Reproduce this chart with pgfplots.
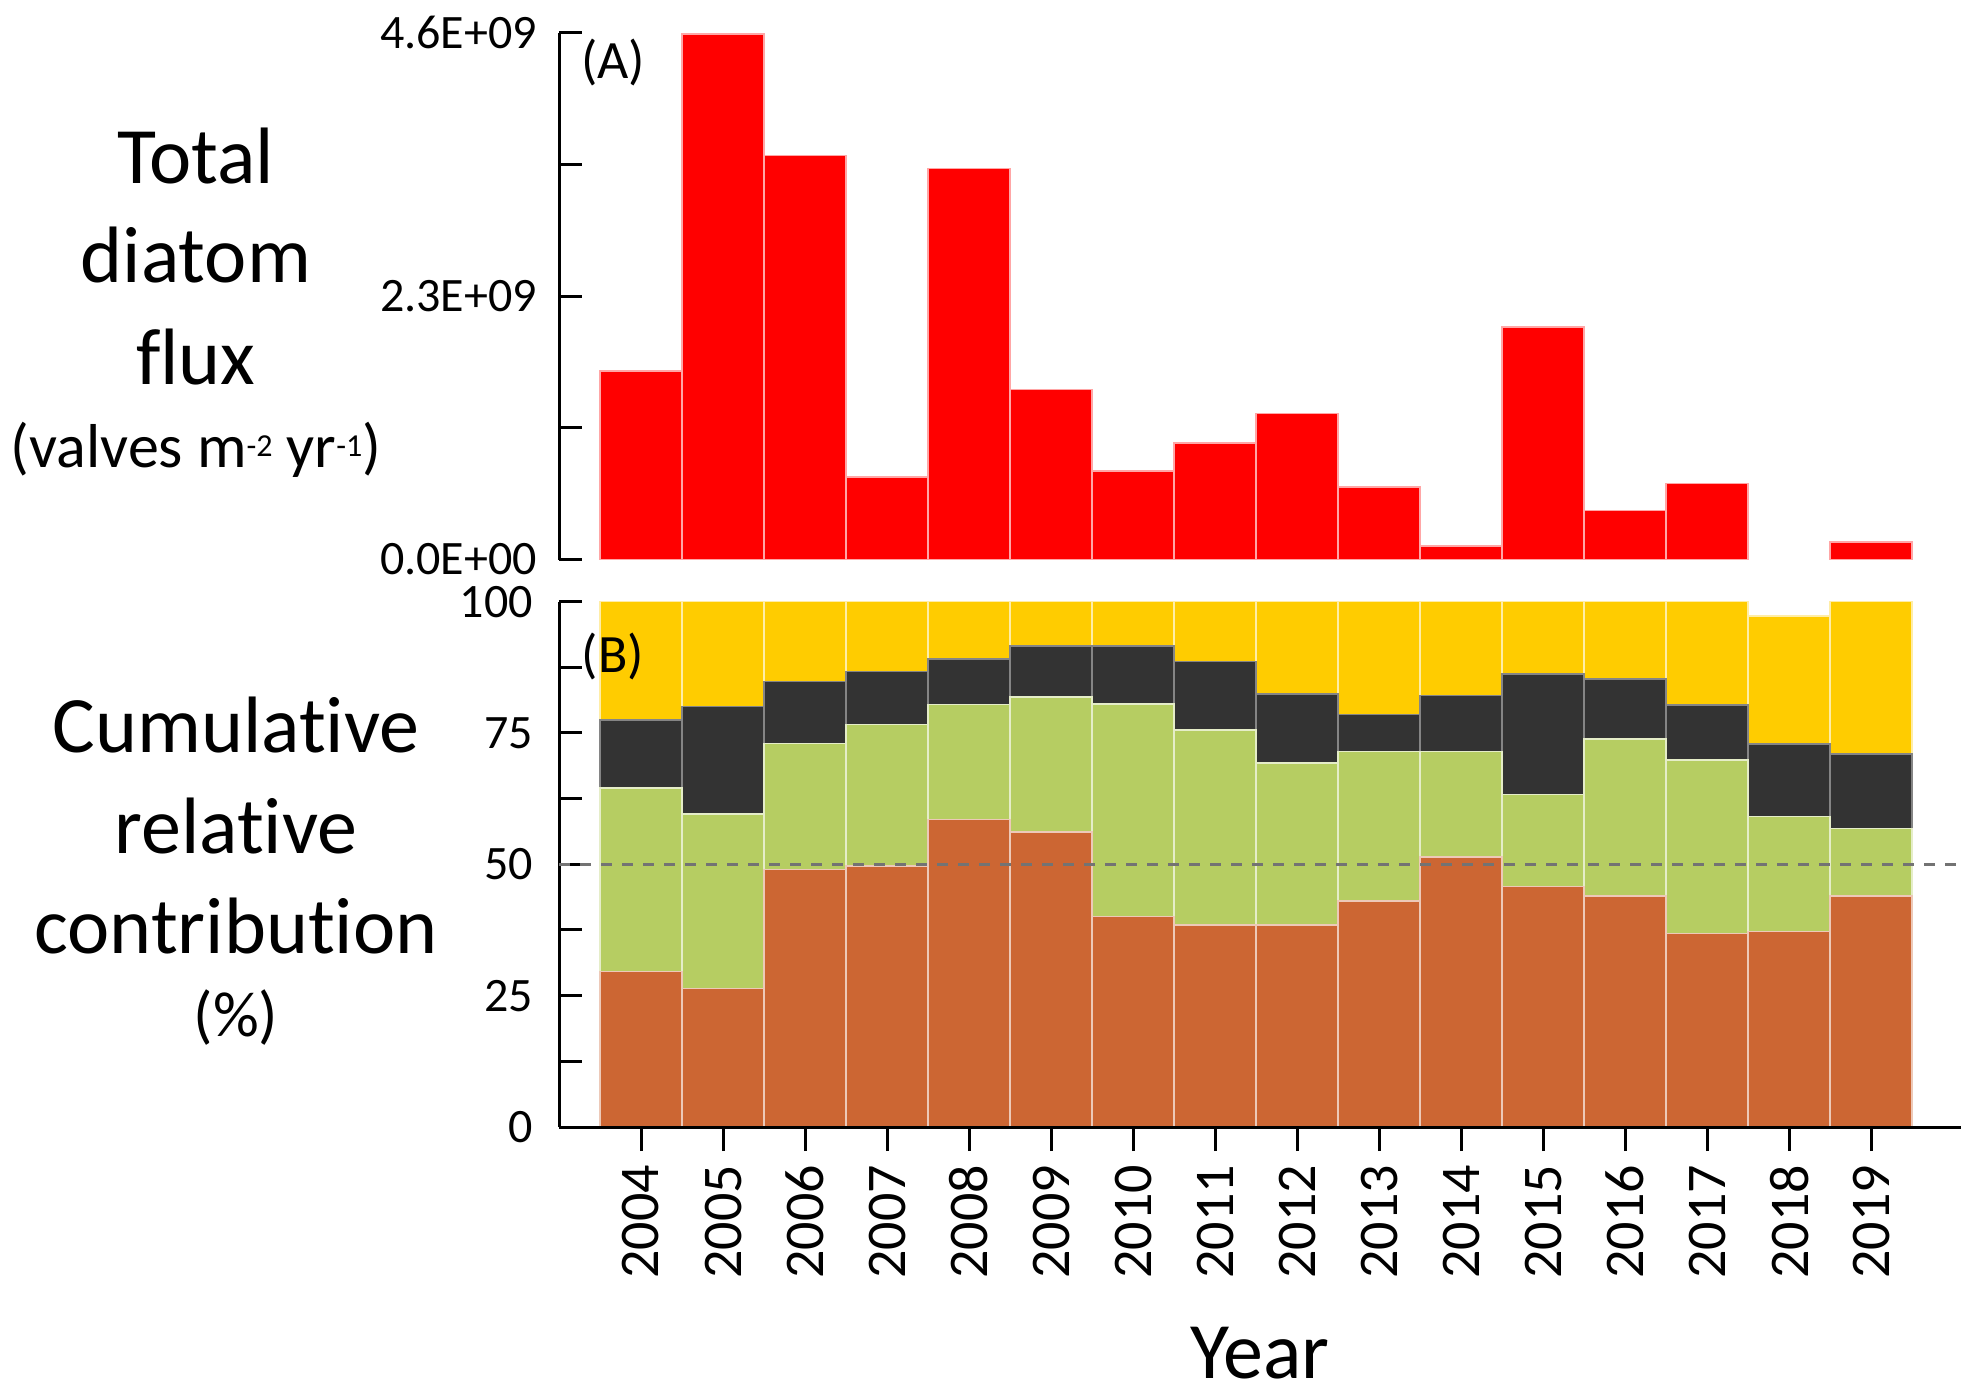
\documentclass[border=0pt]{standalone}
\usepackage{fontspec}
\setmainfont{Carlito}[Ligatures=NoCommon]
\usepackage{pgfplots}
\pgfplotsset{compat=1.18}
\usepackage{pgfplotstable}

\definecolor{cred}{HTML}{FF0000}
\definecolor{corange}{HTML}{CC6633}
\definecolor{cgreen}{HTML}{B6CD62}
\definecolor{cdark}{HTML}{333333}
\definecolor{cyellow}{HTML}{FFCC00}

% Total diatom flux (valves m-2 yr-1); 2018 has no value
\pgfplotstableread{
i flux
0 1.646e9
1 4.587e9
2 3.529e9
3 0.721e9
4 3.415e9
5 1.484e9
6 0.776e9
7 1.016e9
8 1.276e9
9 0.633e9
10 0.120e9
11 2.029e9
12 0.428e9
13 0.665e9
15 0.153e9
}\fluxtab

% Relative contribution layers (%), bottom to top
\pgfplotstableread{
i o g d y
0 29.6 34.9 13.0 22.5
1 26.4 33.2 20.4 20.0
2 49.0 24.0 11.8 15.2
3 49.7 26.9 10.1 13.3
4 58.5 21.9 8.7 10.9
5 56.1 25.7 9.7 8.5
6 40.1 40.4 11.0 8.5
7 38.5 37.1 13.0 11.4
8 38.5 30.8 13.1 17.6
9 43.0 28.5 7.0 21.5
10 51.4 20.1 10.6 17.9
11 45.8 17.5 22.9 13.8
12 44.0 29.9 11.4 14.7
13 36.8 33.0 10.5 19.7
14 37.2 21.9 13.8 24.4
15 44.0 12.8 14.2 29.0
}\reltab

\newcommand{\sups}[1]{{\fontsize{8}{9}\selectfont\raisebox{0.75ex}{#1}}}

\begin{document}
\begin{tikzpicture}
\useasboundingbox (0,0) rectangle (492.25pt,348.5pt);
\pgfplotsset{
  common/.style={
    scale only axis, width=350.6pt, enlargelimits=false,
    xmin=-1, xmax=16.1,
    axis line style={line width=0.75pt,-},
    every tick/.style={line width=0.75pt, black},
    major tick length=5.75pt, minor tick length=5.75pt,
    /pgf/number format/assume math mode=true,
    tick label style={font=\fontsize{12}{14}\selectfont},
  }
}
% ---------- Panel A ----------
\begin{axis}[common, at={(139.75pt,208.6pt)}, anchor=south west,
  height=131.7pt, ymin=0, ymax=4.6e9,
  axis y line*=left, axis x line=none, xtick=\empty,
  tick align=inside,
  ytick={0,1.15e9,2.3e9,3.45e9,4.6e9},
  yticklabels={0.0E+00,,2.3E+09,,4.6E+09},
  scaled y ticks=false,
  yticklabel style={xshift=-2pt},
  ybar, bar width=1]
\addplot[fill=cred, draw=white!65!cred, line width=0.4pt] table[x=i,y=flux]{\fluxtab};
\end{axis}
\node[font=\fontsize{13.5}{15}\selectfont] at (153.25pt,332.75pt) {(A)};

% ---------- Panel B ----------
\begin{axis}[common, at={(139.75pt,66.75pt)}, anchor=south west,
  height=131.35pt, ymin=0, ymax=100,
  axis y line*=left, axis x line=none, xtick=\empty,
  tick align=inside,
  ytick={0,25,50,75,100},
  minor ytick={12.5,37.5,62.5,87.5},
  yticklabel style={xshift=-3pt},
  ybar stacked, bar width=1]
\addplot[fill=corange, draw=white!65!corange, line width=0.4pt] table[x=i,y=o]{\reltab};
\addplot[fill=cgreen, draw=white!65!cgreen, line width=0.4pt] table[x=i,y=g]{\reltab};
\addplot[fill=cdark, draw=white!40!cdark, line width=0.4pt] table[x=i,y=d]{\reltab};
\addplot[fill=cyellow, draw=white!65!cyellow, line width=0.4pt] table[x=i,y=y]{\reltab};
\end{axis}
\begin{axis}[common, at={(139.75pt,66.75pt)}, anchor=south west,
  height=131.35pt, ymin=0, ymax=100,
  axis x line*=bottom, axis y line=none, ytick=\empty,
  tick align=outside, major tick length=6pt,
  xtick={0,1,2,3,4,5,6,7,8,9,10,11,12,13,14,15},
  xticklabels={2004,2005,2006,2007,2008,2009,2010,2011,2012,2013,2014,2015,2016,2017,2018,2019},
  xticklabel style={rotate=90, anchor=east, font=\fontsize{14}{16}\selectfont}]
\addplot[color=black!55, line width=0.6pt, dash pattern=on 2.75pt off 2.5pt] coordinates {(-1,50) (16.1,50)};
\end{axis}
\node[font=\fontsize{13.5}{15}\selectfont] at (153.25pt,184.5pt) {(B)};

% ---------- Labels ----------
\node[anchor=base, font=\fontsize{20}{24}\selectfont] at (49pt,302.5pt) {Total};
\node[anchor=base, font=\fontsize{20}{24}\selectfont] at (49pt,277.9pt) {diatom};
\node[anchor=base, font=\fontsize{20}{24}\selectfont] at (49pt,252.25pt) {flux};
\node[anchor=base, font=\fontsize{15.5}{19}\selectfont] at (49pt,231.6pt) {(valves m\sups{-2} yr\sups{-1})};

\node[anchor=base, font=\fontsize{20}{24}\selectfont] at (59pt,160.5pt) {Cumulative};
\node[anchor=base, font=\fontsize{20}{24}\selectfont] at (59pt,135.25pt) {relative};
\node[anchor=base, font=\fontsize{20}{24}\selectfont] at (59pt,110.25pt) {contribution};
\node[anchor=base, font=\fontsize{16}{19}\selectfont] at (59pt,89.5pt) {(\%)};

\node[anchor=base, font=\fontsize{20}{24}\selectfont] at (315pt,4pt) {Year};
\end{tikzpicture}
\end{document}
